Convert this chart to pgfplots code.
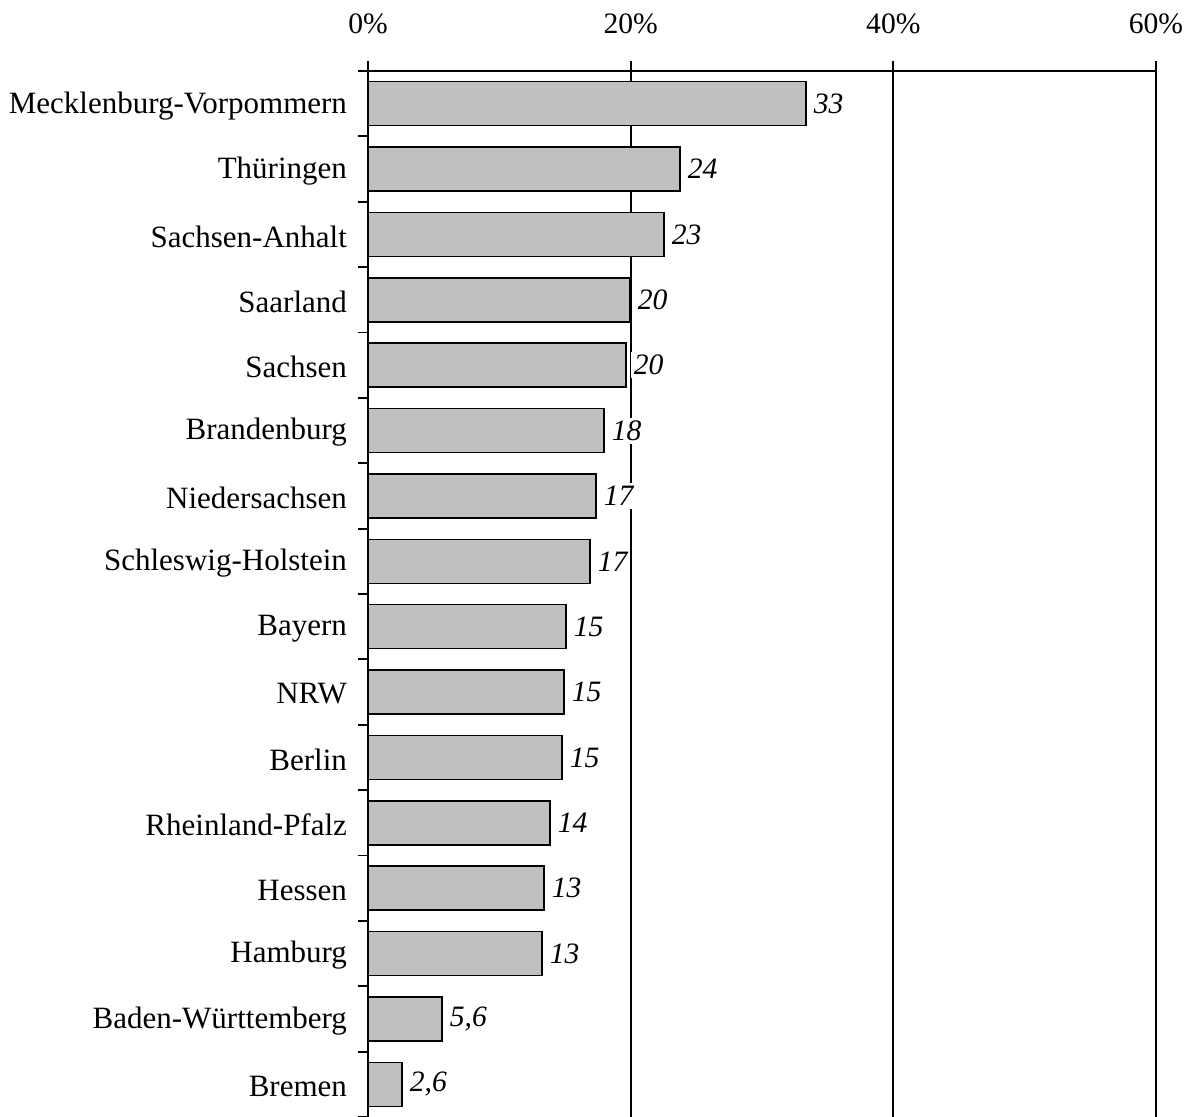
\documentclass[border=0pt]{standalone}
\usepackage{pgfplots}
\pgfplotsset{compat=1.18}
\usepackage{pgfplotstable}
\usepackage{fontspec}
\setmainfont{Liberation Serif}
\pgfplotstableread{
i v lab
0 33.36 33
1 23.76 24
2 22.54 23
3 19.95 20
4 19.65 20
5 17.97 18
6 17.36 17
7 16.90 17
8 15.08 15
9 14.93 15
10 14.78 15
11 13.86 14
12 13.40 13
13 13.25 13
14 5.64 5,6
15 2.59 2,6
}\datatable
\begin{document}
\begin{tikzpicture}
\begin{axis}[
  scale only axis,
  width=394pt, height=523pt,
  xmin=0, xmax=60,
  ymin=-0.5, ymax=15.5,
  y dir=reverse,
  axis x line*=top,
  axis y line*=left,
  axis line style={-, black, line width=1pt},
  xtick={0,20,40,60},
  xticklabels={0\%,20\%,40\%,60\%},
  xtick pos=upper,
  xticklabel pos=upper,
  tick align=outside,
  major tick length=5pt,
  minor tick length=5pt,
  x tick style={black, line width=1pt},
  xticklabel style={font=\fontsize{14.8}{17}\selectfont, yshift=10pt},
  ytick={0,...,15},
  yticklabels={Mecklenburg-Vorpommern,Thüringen,Sachsen-Anhalt,Saarland,Sachsen,Brandenburg,Niedersachsen,Schleswig-Holstein,Bayern,NRW,Berlin,Rheinland-Pfalz,Hessen,Hamburg,Baden-Württemberg,Bremen},
  yticklabel style={font=\fontsize{15.5}{18}\selectfont, xshift=-2pt, yshift=-1pt},
  minor ytick={-0.5,0.5,...,15.5},
  major y tick style={draw=none},
  minor y tick style={black, line width=0.9pt},
  ytick pos=left,
  xmajorgrids,
  major grid style={black, line width=0.9pt},
  /pgf/number format/assume math mode=true,
  clip=false,
]
\addplot[xbar, bar width=22pt, fill={rgb,255:red,192;green,192;blue,192}, draw=black, line width=0.8pt,
  point meta=explicit symbolic,
  nodes near coords,
  every node near coord/.append style={anchor=west, xshift=2pt, fill=white, inner sep=1.5pt, text=black,
    font=\fontsize{14.8}{17}\selectfont\itshape},
] table[x=v, y=i, meta=lab] {\datatable};
\coordinate (SW) at (axis description cs:0,0);
\coordinate (NE) at (axis description cs:1,1);
\end{axis}
\pgfresetboundingbox
\path[use as bounding box] ([xshift=-184pt]SW) rectangle ([xshift=18pt, yshift=35.5pt]NE);
\end{tikzpicture}
\end{document}
